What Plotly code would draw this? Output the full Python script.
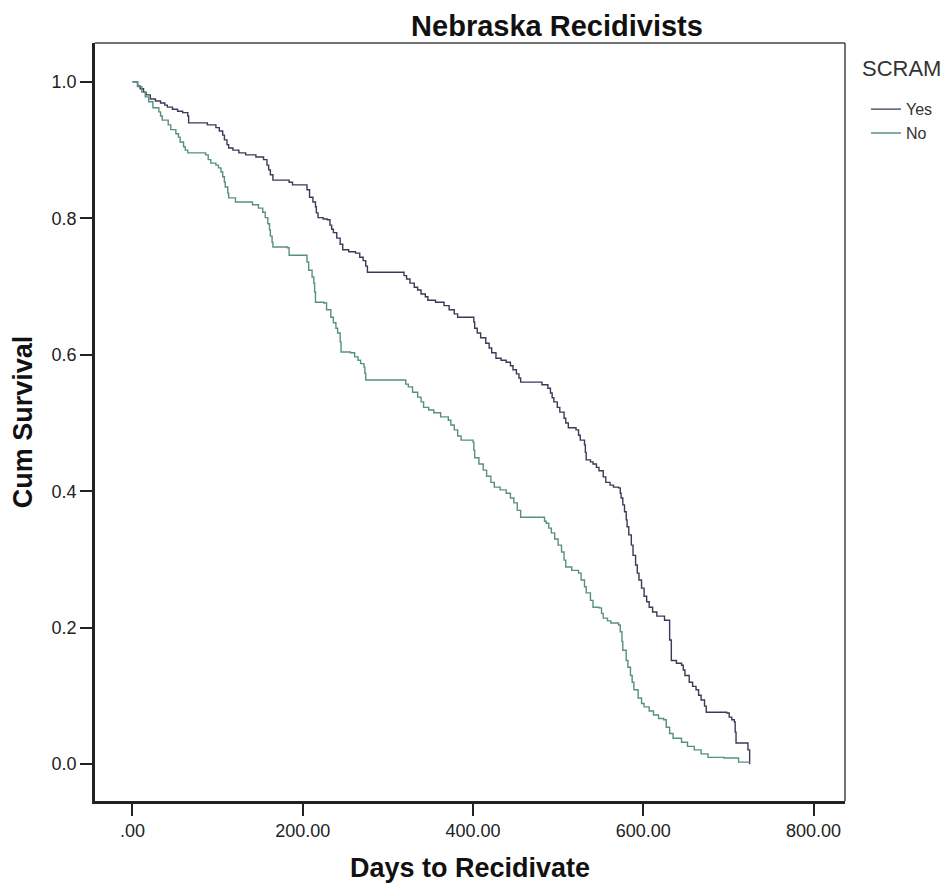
import plotly.graph_objects as go

# Kaplan-Meier step points: (day of drop, cumulative survival after drop)
yes_days = [0, 6, 9, 13, 16, 21, 27, 33, 38, 41, 47, 53, 59, 65, 66, 88, 98, 102, 106, 108, 111, 113,
            118, 125, 133, 145, 154, 158, 160, 162, 165, 184, 188, 205, 208, 212, 215, 216, 218, 224,
            229, 232, 234, 236, 240, 244, 247, 254, 262, 267, 271, 274, 276, 319, 322, 326, 331, 335,
            339, 344, 347, 356, 366, 372, 378, 382, 401, 402, 405, 409, 415, 419, 422, 427, 433, 439,
            444, 447, 451, 454, 456, 481, 488, 491, 493, 495, 499, 502, 507, 509, 512, 521, 524, 526,
            531, 532, 533, 538, 541, 545, 548, 553, 556, 561, 565, 571, 573, 574, 576, 578, 580, 581,
            583, 586, 588, 591, 593, 595, 598, 601, 604, 607, 611, 616, 625, 631, 633, 639, 645, 647,
            649, 654, 658, 662, 665, 668, 672, 674, 698, 701, 704, 707, 708, 709, 723, 725]
yes_surv = [1.000, 0.994, 0.990, 0.985, 0.981, 0.975, 0.972, 0.969, 0.966, 0.963, 0.960, 0.957, 0.955,
            0.950, 0.940, 0.937, 0.933, 0.928, 0.922, 0.915, 0.908, 0.903, 0.900, 0.896, 0.893, 0.890,
            0.886, 0.878, 0.871, 0.864, 0.856, 0.853, 0.849, 0.842, 0.831, 0.824, 0.817, 0.808, 0.801,
            0.799, 0.798, 0.790, 0.784, 0.779, 0.771, 0.762, 0.754, 0.751, 0.749, 0.743, 0.738, 0.730,
            0.721, 0.716, 0.711, 0.705, 0.699, 0.695, 0.689, 0.685, 0.680, 0.677, 0.672, 0.666, 0.660,
            0.655, 0.648, 0.639, 0.632, 0.625, 0.617, 0.610, 0.603, 0.595, 0.592, 0.589, 0.584, 0.578,
            0.572, 0.566, 0.560, 0.556, 0.551, 0.544, 0.537, 0.531, 0.523, 0.516, 0.507, 0.500, 0.493,
            0.490, 0.482, 0.475, 0.468, 0.457, 0.446, 0.443, 0.440, 0.435, 0.430, 0.421, 0.413, 0.409,
            0.406, 0.405, 0.397, 0.390, 0.380, 0.370, 0.358, 0.348, 0.336, 0.321, 0.306, 0.292, 0.280,
            0.270, 0.258, 0.246, 0.238, 0.230, 0.223, 0.217, 0.211, 0.182, 0.152, 0.148, 0.145, 0.138,
            0.130, 0.120, 0.114, 0.109, 0.101, 0.094, 0.085, 0.076, 0.075, 0.069, 0.065, 0.062, 0.047,
            0.031, 0.021, 0.000]

no_days = [0, 6, 11, 15, 19, 24, 31, 33, 35, 42, 45, 51, 54, 56, 60, 62, 65, 86, 89, 92, 98, 101, 104,
           106, 108, 109, 112, 113, 121, 141, 148, 153, 156, 159, 161, 162, 164, 165, 182, 184, 205, 207,
           211, 213, 214, 215, 225, 228, 233, 236, 239, 241, 244, 245, 256, 261, 265, 268, 272, 273, 274,
           321, 324, 329, 335, 339, 342, 348, 354, 362, 371, 374, 378, 382, 386, 400, 401, 402, 407, 412,
           416, 421, 425, 432, 439, 444, 448, 452, 456, 484, 486, 489, 492, 496, 500, 504, 507, 509, 516,
           524, 527, 531, 533, 538, 541, 548, 551, 553, 558, 562, 571, 573, 575, 576, 580, 582, 585, 587,
           589, 594, 598, 601, 607, 612, 618, 624, 627, 631, 635, 645, 652, 660, 668, 676, 695, 712, 725]
no_surv = [1.000, 0.993, 0.985, 0.978, 0.971, 0.962, 0.956, 0.950, 0.944, 0.937, 0.930, 0.924, 0.919,
           0.912, 0.905, 0.900, 0.896, 0.893, 0.886, 0.881, 0.878, 0.874, 0.868, 0.861, 0.853, 0.846,
           0.837, 0.830, 0.824, 0.820, 0.815, 0.809, 0.801, 0.792, 0.783, 0.774, 0.765, 0.758, 0.757,
           0.746, 0.736, 0.724, 0.714, 0.705, 0.692, 0.677, 0.676, 0.666, 0.655, 0.647, 0.639, 0.632,
           0.619, 0.604, 0.603, 0.597, 0.592, 0.587, 0.582, 0.573, 0.563, 0.557, 0.553, 0.545, 0.538,
           0.531, 0.523, 0.519, 0.515, 0.509, 0.504, 0.497, 0.490, 0.481, 0.475, 0.472, 0.460, 0.449,
           0.440, 0.431, 0.422, 0.413, 0.406, 0.402, 0.397, 0.390, 0.383, 0.372, 0.362, 0.356, 0.353,
           0.346, 0.339, 0.330, 0.321, 0.311, 0.299, 0.289, 0.284, 0.280, 0.270, 0.260, 0.251, 0.240,
           0.230, 0.229, 0.221, 0.214, 0.210, 0.207, 0.204, 0.194, 0.180, 0.167, 0.152, 0.142, 0.130,
           0.120, 0.109, 0.097, 0.089, 0.084, 0.078, 0.072, 0.067, 0.065, 0.054, 0.045, 0.038, 0.032,
           0.026, 0.021, 0.015, 0.010, 0.009, 0.003, 0.003]

x_ticks = [0, 200, 400, 600, 800]
x_tick_labels = [".00", "200.00", "400.00", "600.00", "800.00"]
y_ticks = [0.0, 0.2, 0.4, 0.6, 0.8, 1.0]
y_tick_labels = ["0.0", "0.2", "0.4", "0.6", "0.8", "1.0"]

FONT = "Liberation Sans, Arial, sans-serif"
W, H = 933, 878  # page body adds an 8px margin

fig = go.Figure()
fig.add_trace(go.Scatter(x=yes_days, y=yes_surv, mode="lines", name="Yes",
                         line=dict(shape="hv", color="#3a3a58", width=1.4)))
fig.add_trace(go.Scatter(x=no_days, y=no_surv, mode="lines", name="No",
                         line=dict(shape="hv", color="#58907f", width=1.4)))

fig.update_layout(
    width=W, height=H,
    margin=dict(l=87, r=96, t=35, b=85, autoexpand=False),
    paper_bgcolor="white", plot_bgcolor="white",
    font=dict(family=FONT, size=18, color="#222"),
    title=dict(text="<b>Nebraska Recidivists</b>", x=549 / W, xref="container", xanchor="center",
               y=1 - 18 / H, yref="container", yanchor="middle",
               font=dict(family=FONT, size=29, color="#111")),
    legend=dict(x=1.028, y=0.935, xanchor="left", yanchor="top",
                font=dict(size=16, color="#333"), bgcolor="rgba(0,0,0,0)",
                tracegroupgap=0, itemwidth=30),
    showlegend=True,
    annotations=[
        dict(text="SCRAM", x=1.020, y=0.967, xref="paper", yref="paper",
             xanchor="left", yanchor="middle", showarrow=False,
             font=dict(family=FONT, size=22, color="#333")),
        dict(text="<b>Days to Recidivate</b>", x=0.5, y=-0.089, xref="paper", yref="paper",
             xanchor="center", yanchor="middle", showarrow=False,
             font=dict(family=FONT, size=27, color="#111")),
    ],
    shapes=[
        dict(type="line", xref="paper", yref="paper", x0=0, x1=1, y0=1, y1=1,
             line=dict(color="#444", width=1.5)),
        dict(type="line", xref="paper", yref="paper", x0=1, x1=1, y0=0, y1=1,
             line=dict(color="#444", width=1.5)),
    ],
)
fig.update_xaxes(range=[-44, 837], tickvals=x_ticks, ticktext=x_tick_labels,
                 ticks="outside", ticklen=12, tickwidth=2, tickcolor="#222",
                 showline=True, linecolor="#222", linewidth=2.5, mirror=False,
                 showgrid=False, zeroline=False, automargin=False,
                 tickfont=dict(size=18, color="#222"))
fig.update_yaxes(range=[-0.054, 1.057], tickvals=y_ticks, ticktext=y_tick_labels,
                 ticks="outside", ticklen=12, tickwidth=2, tickcolor="#222",
                 showline=True, linecolor="#222", linewidth=2.5, mirror=False,
                 showgrid=False, zeroline=False, automargin=False,
                 tickfont=dict(size=18, color="#222"),
                 title=dict(text="<b>Cum Survival</b>", font=dict(size=27, color="#111"), standoff=18))

fig.write_html("out.html")
